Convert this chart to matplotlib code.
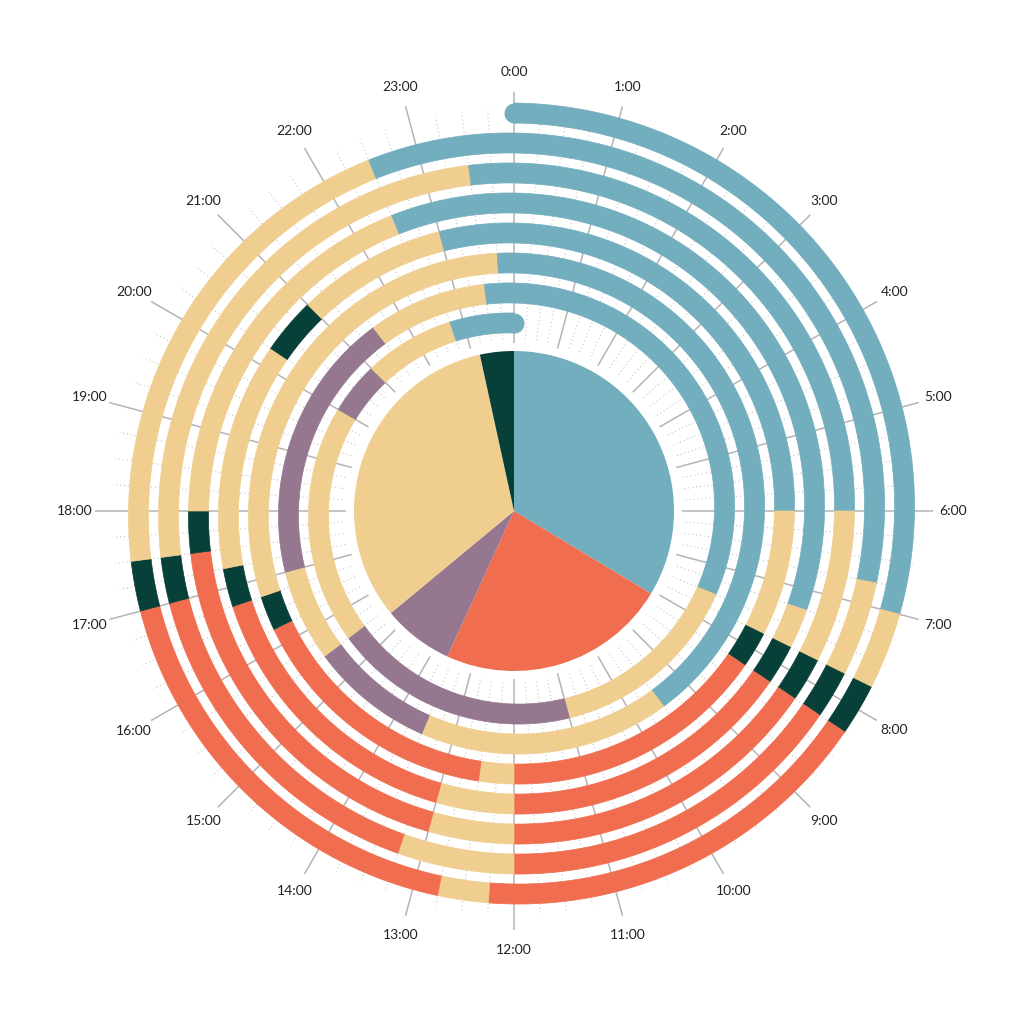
import numpy as np
import matplotlib
matplotlib.use("Agg")
import matplotlib.pyplot as plt

# ---------------- data: one week, start hour of each activity segment ----------------
mon_start = [0, 7.0, 7.75, 8.25, 12.25, 12.75, 17.0, 17.5, 22.5]
mon_act = ["sleep", "free", "commute", "work", "free", "work", "commute", "free", "sleep"]

tue_start = [0, 6.75, 7.75, 8.25, 12.0, 13.25, 17.0, 17.5, 23.5]
tue_act = ["sleep", "free", "commute", "work", "free", "work", "commute", "free", "sleep"]

wed_start = [0, 6.0, 7.75, 8.25, 12.0, 13.0, 17.5, 18.0, 22.5]
wed_act = ["sleep", "free", "commute", "work", "free", "work", "commute", "free", "sleep"]

thu_start = [0, 7.25, 7.75, 8.25, 12.0, 13.0, 16.75, 17.25, 20.25, 21.0, 23.0]
thu_act = ["sleep", "free", "commute", "work", "free", "work", "commute", "free",
           "commute", "free", "sleep"]

fri_start = [0, 6.0, 7.75, 8.25, 12.0, 12.5, 16.25, 16.75, 23.75]
fri_act = ["sleep", "free", "commute", "work", "free", "work", "commute", "free", "sleep"]

sat_start = [0, 9.5, 13.5, 15.5, 17.0, 21.5, 23.5]
sat_act = ["sleep", "free", "hobby", "free", "hobby", "free", "sleep"]

sun_start = [0, 7.5, 11.0, 15.5, 20.0, 21.0, 22.75]
sun_act = ["sleep", "free", "hobby", "free", "hobby", "free", "sleep"]

week_starts = [mon_start, tue_start, wed_start, thu_start, fri_start, sat_start, sun_start]
week_acts = [mon_act, tue_act, wed_act, thu_act, fri_act, sat_act, sun_act]

pie_order = ["sleep", "work", "hobby", "free", "commute"]
colors = {"sleep": "#73AEBF", "work": "#F16D4F", "hobby": "#957890",
          "free": "#F0CE8F", "commute": "#073F39"}

hour_labels = ["0:00", "1:00", "2:00", "3:00", "4:00", "5:00", "6:00", "7:00",
               "8:00", "9:00", "10:00", "11:00", "12:00", "13:00", "14:00", "15:00",
               "16:00", "17:00", "18:00", "19:00", "20:00", "21:00", "22:00", "23:00"]

# ---------------- geometry (pixels) ----------------
R0, STEP, BAND = 398.0, 30.0, 20.0
CX, CY = 514, 1024 - 511
RMAX = 500
PIE_R = 160


def theta(h):
    return np.asarray(h) / 24.0 * 2 * np.pi


def spiral_r(day, h):
    return R0 - STEP * (day + np.asarray(h) / 24.0)


fig = plt.figure(figsize=(10.24, 10.24), dpi=100)
fig.patch.set_facecolor("white")
ax = fig.add_axes([(CX - RMAX) / 1024, (CY - RMAX) / 1024, 2 * RMAX / 1024, 2 * RMAX / 1024],
                  projection="polar")
ax.set_theta_zero_location("N")
ax.set_theta_direction(-1)
ax.set_ylim(0, RMAX)
ax.axis("off")

# hour spokes and quarter-hour dotted ticks
for h in range(24):
    ax.plot([theta(h)] * 2, [168, 419], color="#b4b4b4", lw=1.1, zorder=1,
            solid_capstyle="butt")
for q in np.arange(0, 24, 0.25):
    if q % 1 != 0:
        ax.plot([theta(q)] * 2, [172, 402], color="#c6c6c6", lw=0.8, zorder=1,
                ls=(0, (1, 2.5)))

# spiral bands
totals = {c: 0.0 for c in pie_order}
for d, (starts, acts) in enumerate(zip(week_starts, week_acts)):
    ends = starts[1:] + [24]
    for s, e, a in zip(starts, ends, acts):
        totals[a] += e - s
        hh = np.linspace(s, e, int((e - s) * 40) + 2)
        rc = spiral_r(d, hh)
        th = theta(hh)
        ax.fill(np.r_[th, th[::-1]], np.r_[rc + BAND / 2, (rc - BAND / 2)[::-1]],
                color=colors[a], ec=colors[a], lw=0.5, zorder=3)

# round caps at the beginning and end of the week
ms = BAND * 72 / 100
ax.plot(theta(0), spiral_r(0, 0), "o", ms=ms, mew=0, color=colors[mon_act[0]], zorder=3)
ax.plot(theta(24), spiral_r(6, 24), "o", ms=ms, mew=0, color=colors[sun_act[-1]], zorder=3)

# hour labels
for h, lab in enumerate(hour_labels):
    ax.text(theta(h), 439, lab, ha="center", va="center", fontsize=10,
            color="#222222", family=["Lato", "DejaVu Sans"])

# central pie: weekly totals per activity
ax2 = fig.add_axes([(CX - PIE_R) / 1024, (CY - PIE_R) / 1024, 2 * PIE_R / 1024, 2 * PIE_R / 1024])
ax2.pie([totals[c] for c in pie_order], colors=[colors[c] for c in pie_order],
        startangle=90, counterclock=False, radius=1,
        wedgeprops=dict(linewidth=0.3, edgecolor="none"))
ax2.set_xlim(-1, 1)
ax2.set_ylim(-1, 1)
ax2.set_aspect("equal")
ax2.axis("off")

fig.savefig("out.png", dpi=100, facecolor="white")
